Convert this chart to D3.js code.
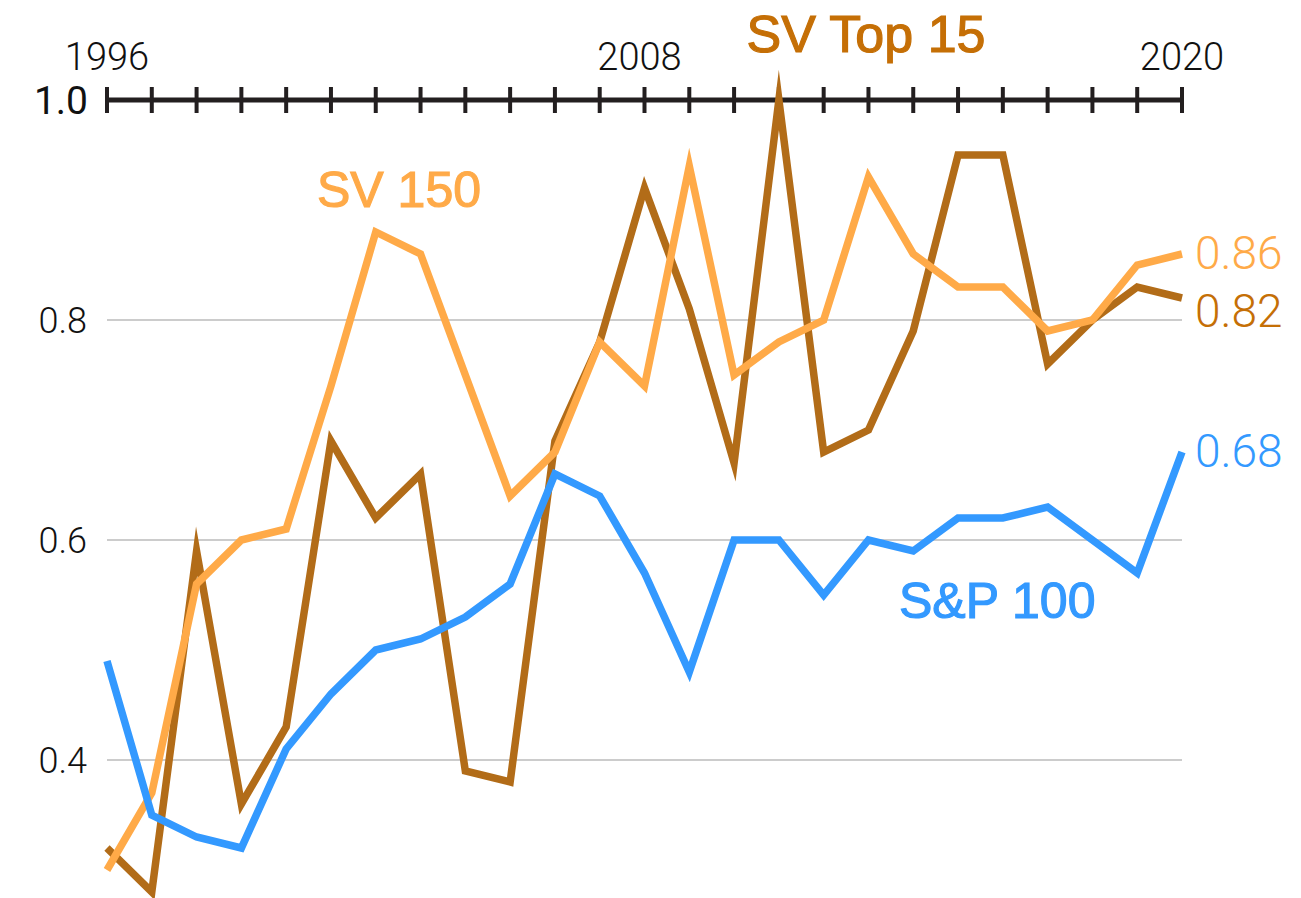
<!DOCTYPE html>
<html>
<head>
<meta charset="utf-8">
<script src="https://cdn.jsdelivr.net/npm/d3@7"></script>
<style>
  html, body { margin: 0; padding: 0; background: #fff; }
  svg { display: block; }
</style>
</head>
<body>
<svg id="chart" width="1301" height="898"></svg>
<script>
// Yearly series, 1996–2020
const years = d3.range(1996, 2021);
const svTop15 = [0.32, 0.28, 0.59, 0.36, 0.43, 0.69, 0.62, 0.66, 0.39, 0.38, 0.69, 0.78, 0.92,
                 0.81, 0.67, 1.00, 0.68, 0.70, 0.79, 0.95, 0.95, 0.76, 0.80, 0.83, 0.82];
const sv150   = [0.30, 0.37, 0.56, 0.60, 0.61, 0.74, 0.88, 0.86, 0.75, 0.64, 0.68, 0.78, 0.74,
                 0.94, 0.75, 0.78, 0.80, 0.93, 0.86, 0.83, 0.83, 0.79, 0.80, 0.85, 0.86];
const sp100   = [0.49, 0.35, 0.33, 0.32, 0.41, 0.46, 0.50, 0.51, 0.53, 0.56, 0.66, 0.64, 0.57,
                 0.48, 0.60, 0.60, 0.55, 0.60, 0.59, 0.62, 0.62, 0.63, 0.60, 0.57, 0.68];
const yearLabels = [1996, 2008, 2020];
const gridValues = [0.8, 0.6, 0.4];
const axisValue = 1.0;

const svg = d3.select("#chart");
const numFont = "Roboto, 'Liberation Sans', Arial, sans-serif";
const nameFont = "'Liberation Sans', Arial, Helvetica, sans-serif";

const x = d3.scaleLinear().domain([1996, 2020]).range([107, 1182]);
const y = d3.scaleLinear().domain([0.4, 1.0]).range([760, 100]);

const colors = { top15: "#b26c18", top15Text: "#c56f06", sv150: "#ffaa48", sp100: "#3399ff" };

// horizontal gridlines
svg.append("g").selectAll("line").data(gridValues).join("line")
  .attr("x1", x(1996)).attr("x2", x(2020))
  .attr("y1", d => y(d)).attr("y2", d => y(d))
  .attr("stroke", "#cccccc").attr("stroke-width", 2);

// y labels
svg.append("g").selectAll("text").data(gridValues).join("text")
  .attr("x", 87).attr("y", d => y(d) + 13)
  .attr("text-anchor", "end")
  .attr("font-family", numFont).attr("font-weight", 300).attr("font-size", 36)
  .attr("fill", "#111")
  .text(d => d3.format(".1f")(d));

svg.append("text")
  .attr("x", 88).attr("y", y(axisValue) + 14)
  .attr("text-anchor", "end")
  .attr("font-family", numFont).attr("font-weight", 400).attr("font-size", 39)
  .attr("fill", "#111")
  .text(d3.format(".1f")(axisValue));

// top axis: line with a tick every year
const axisG = svg.append("g");
axisG.append("line")
  .attr("x1", x(1996)).attr("x2", x(2020))
  .attr("y1", y(axisValue)).attr("y2", y(axisValue))
  .attr("stroke", "#231f20").attr("stroke-width", 5);
axisG.selectAll("line.tick").data(years).join("line")
  .attr("class", "tick")
  .attr("x1", d => x(d)).attr("x2", d => x(d))
  .attr("y1", y(axisValue) - 13).attr("y2", y(axisValue) + 13)
  .attr("stroke", "#231f20").attr("stroke-width", 4);
axisG.selectAll("text").data(yearLabels).join("text")
  .attr("x", d => x(d) - (d === 2008 ? 5 : 0)).attr("y", 70)
  .attr("text-anchor", "middle")
  .attr("font-family", numFont).attr("font-weight", 300).attr("font-size", 38)
  .attr("fill", "#111")
  .text(d => d);

// series lines
const line = d3.line().x((d, i) => x(years[i])).y(d => y(d));
const series = [
  { key: "top15", values: svTop15, color: colors.top15 },
  { key: "sv150", values: sv150, color: colors.sv150 },
  { key: "sp100", values: sp100, color: colors.sp100 }
];
svg.append("g").selectAll("path").data(series).join("path")
  .attr("d", d => line(d.values))
  .attr("fill", "none")
  .attr("stroke", d => d.color)
  .attr("stroke-width", 7.5)
  .attr("stroke-linejoin", "miter")
  .attr("stroke-miterlimit", 10);

// series names
const names = [
  { text: "SV Top 15", x: 866, y: 52, anchor: "middle", color: colors.top15Text, size: 52 },
  { text: "SV 150", x: 317, y: 207, anchor: "start", color: colors.sv150, size: 50 },
  { text: "S&P 100", x: 899, y: 618, anchor: "start", color: colors.sp100, size: 50 }
];
svg.append("g").selectAll("text").data(names).join("text")
  .attr("x", d => d.x).attr("y", d => d.y)
  .attr("text-anchor", d => d.anchor)
  .attr("font-family", nameFont).attr("font-weight", 400).attr("font-size", d => d.size)
  .attr("fill", d => d.color)
  .attr("stroke", d => d.color).attr("stroke-width", 1.2)
  .text(d => d.text);

// end-of-line values
const endLabels = [
  { v: sv150[sv150.length - 1], color: colors.sv150, dy: 0 },
  { v: svTop15[svTop15.length - 1], color: colors.top15Text, dy: 14 },
  { v: sp100[sp100.length - 1], color: colors.sp100, dy: 0 }
];
svg.append("g").selectAll("text").data(endLabels).join("text")
  .attr("x", 1195).attr("y", d => y(d.v) + 15 + d.dy)
  .attr("font-family", numFont).attr("font-weight", 300).attr("font-size", 46)
  .attr("fill", d => d.color)
  .text(d => d3.format(".2f")(d.v));
</script>
</body>
</html>
